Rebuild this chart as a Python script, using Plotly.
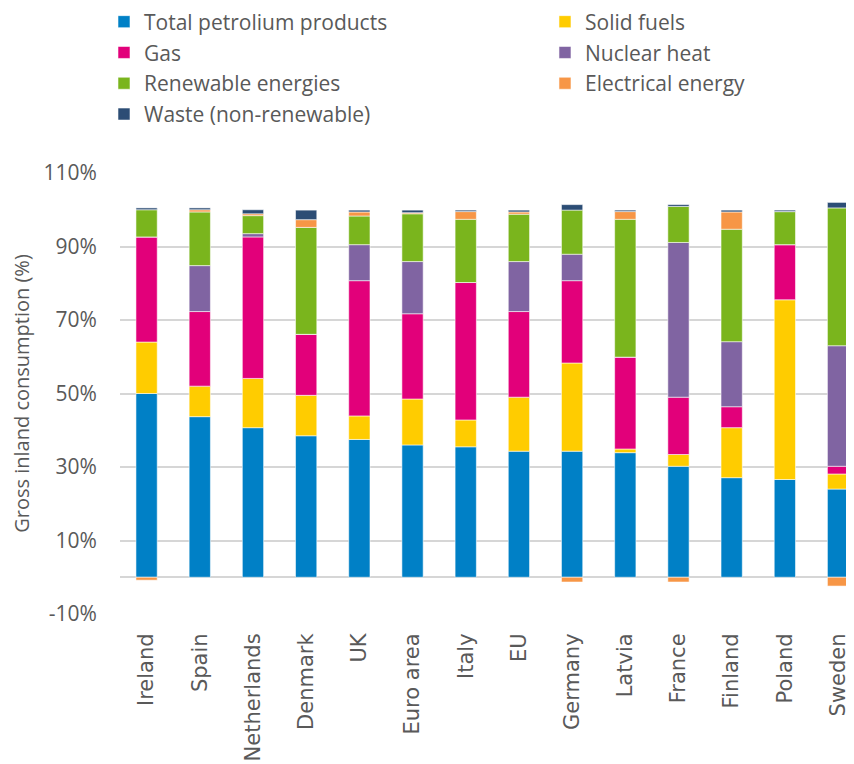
import plotly.graph_objects as go

categories = ["Ireland", "Spain", "Netherlands", "Denmark", "UK", "Euro area", "Italy",
              "EU", "Germany", "Latvia", "France", "Finland", "Poland", "Sweden"]

petroleum = [50.0, 43.7, 40.7, 38.5, 37.5, 36.0, 35.5, 34.3, 34.3, 33.9, 30.2, 27.1, 26.6, 24.0]
solid     = [14.0, 8.3, 13.4, 11.0, 6.4, 12.5, 7.3, 14.7, 24.0, 1.0, 3.2, 13.6, 48.9, 4.1]
gas       = [28.6, 20.3, 38.5, 16.6, 36.8, 23.2, 37.4, 23.3, 22.4, 25.0, 15.6, 5.7, 15.0, 2.1]
nuclear   = [0.0, 12.5, 0.9, 0.0, 9.8, 14.2, 0.0, 13.6, 7.2, 0.0, 42.1, 17.7, 0.0, 32.8]
renewable = [7.4, 14.6, 4.9, 29.1, 7.8, 13.0, 17.2, 12.9, 12.0, 37.5, 9.8, 30.6, 9.0, 37.5]
electric  = [-0.8, 0.6, 0.5, 2.1, 1.1, 0.3, 2.1, 0.6, -1.3, 2.1, -1.3, 4.7, 0.0, -2.4]
waste     = [0.5, 0.5, 1.1, 2.6, 0.5, 0.7, 0.4, 0.5, 1.5, 0.4, 0.5, 0.5, 0.4, 1.5]

series = [
    ("Total petrolium products", petroleum, "#0080C6", "legend"),
    ("Solid fuels", solid, "#FFCC00", "legend2"),
    ("Gas", gas, "#E2007A", "legend"),
    ("Nuclear heat", nuclear, "#8064A2", "legend2"),
    ("Renewable energies", renewable, "#7AB51D", "legend"),
    ("Electrical energy", electric, "#F79646", "legend2"),
    ("Waste (non-renewable)", waste, "#2C4D75", "legend"),
]

tick_vals = [-10, 10, 30, 50, 70, 90, 110]
tick_text = ["-10%", "10%", "30%", "50%", "70%", "90%", "110%"]

fig = go.Figure()
for i, (name, vals, color, leg) in enumerate(series):
    fig.add_trace(go.Bar(
        x=categories, y=vals, name=name, legend=leg, legendgroup=f"g{i}",
        marker=dict(color=color, line=dict(color="rgba(255,255,255,0.55)", width=1)),
    ))

grey = "#595959"
legend_common = dict(
    orientation="v", yref="paper", y=1.3889, yanchor="top", xanchor="left",
    font=dict(family="Open Sans, sans-serif", size=21, color=grey),
    bgcolor="rgba(0,0,0,0)", tracegroupgap=0.5, traceorder="grouped",
)
fig.update_layout(
    barmode="relative",
    bargap=0.6,
    width=846, height=756,
    margin=dict(l=112, r=0, t=165, b=150, autoexpand=False),
    paper_bgcolor="white", plot_bgcolor="white",
    font=dict(family="Open Sans, sans-serif", color=grey, size=20),
    legend=dict(x=-0.0218, **legend_common),
    legend2=dict(x=0.579, **legend_common),
    xaxis=dict(
        range=[-0.5, 13.3], tickangle=-90,
        tickfont=dict(family="DejaVu Sans", size=21, color=grey),
        ticks="outside", ticklen=10, tickcolor="rgba(0,0,0,0)",
        showgrid=False, zeroline=False, showline=False,
    ),
    yaxis=dict(
        range=[-10, 110], tickvals=tick_vals, ticktext=tick_text,
        tickfont=dict(family="Open Sans, sans-serif", size=21, color=grey),
        showgrid=True, gridcolor="#D6D6D6", gridwidth=2,
        zeroline=True, zerolinecolor="#D6D6D6", zerolinewidth=2,
        ticks="outside", ticklen=18, tickcolor="rgba(0,0,0,0)",
        title=dict(text="Gross inland consumption (%)",
                   font=dict(family="Open Sans, sans-serif", size=20, color=grey), standoff=10),
    ),
)

fig.write_html("out.html")
